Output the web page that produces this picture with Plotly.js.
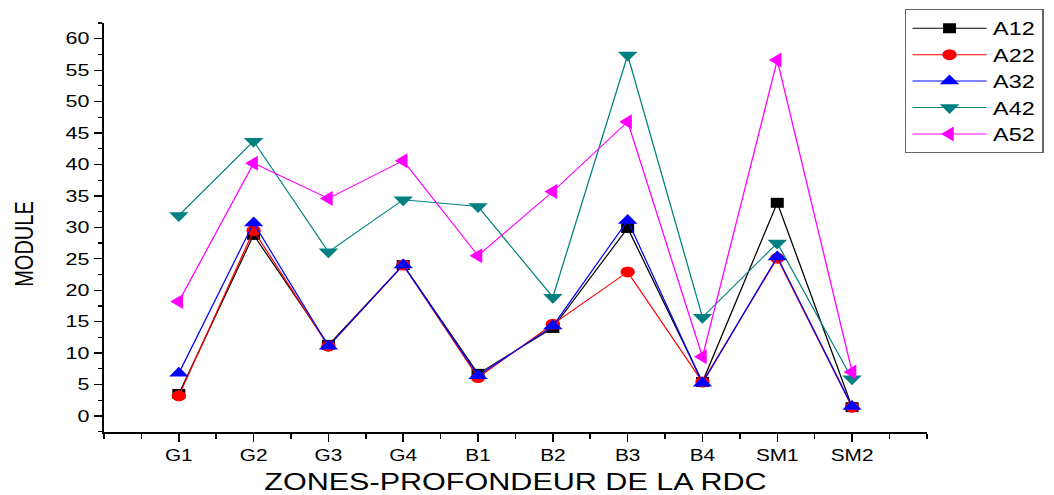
<!DOCTYPE html>
<html>
<head>
<meta charset="utf-8">
<script src="https://cdn.plot.ly/plotly-3.0.1.min.js"></script>
<style>
  html, body { margin: 0; padding: 0; background: #fff; overflow: hidden; }
  /* The figure is laid out narrow and widened horizontally to 1054px */
  #wrap { width: 1054px; height: 495px; overflow: hidden; }
  #chart { width: 811px; height: 495px; transform: scaleX(1.3); transform-origin: 0 0; }
</style>
</head>
<body>
<div id="wrap"><div id="chart"></div></div>
<script>
// Zones along the x axis
const zones = ["G1", "G2", "G3", "G4", "B1", "B2", "B3", "B4", "SM1", "SM2"];

// MODULE values per series
const A12 = [3.5, 28.8, 11.3, 24.0, 6.7, 14.0, 29.9, 5.4, 33.9, 1.4];
const A22 = [3.2, 29.5, 11.1, 24.0, 6.1, 14.6, 22.9, 5.4, 25.1, 1.4];
const A32 = [6.8, 30.7, 11.1, 24.0, 6.4, 14.3, 31.1, 5.2, 25.3, 1.5];
const A42 = [31.9, 43.7, 26.1, 34.4, 33.3, 18.9, 57.4, 15.7, 27.5, 5.9];
const A52 = [18.2, 40.2, 34.6, 40.6, 25.5, 35.7, 46.8, 9.4, 56.6, 7.0];

const seriesNames = ["A12", "A22", "A32", "A42", "A52"];
const seriesData = [A12, A22, A32, A42, A52];
const colors = ["#000000", "#ff0000", "#0000ff", "#008080", "#ff00ff"];
const symbols = ["square", "circle", "triangle-up", "triangle-down", "triangle-left"];
const sizes = [10, 11, 13, 13, 13];

// Numeric positions 1..N so the axis can run from 0 to N+1
const xpos = zones.map((_, i) => i + 1);

const traces = seriesData.map((vals, k) => ({
  type: "scatter",
  mode: "lines+markers",
  name: seriesNames[k],
  x: xpos,
  y: vals,
  line: { color: colors[k], width: 1 },
  marker: { color: colors[k], symbol: symbols[k], size: sizes[k] },
  cliponaxis: false
}));

const font = "Liberation Sans, Arial, sans-serif";

const layout = {
  width: 811,
  height: 495,
  margin: { l: 80, r: 98, t: 23, b: 63, autoexpand: false },
  paper_bgcolor: "#fff",
  plot_bgcolor: "#fff",
  font: { family: font, color: "#000" },
  showlegend: true,
  legend: {
    x: 0.973, y: 1.034, xanchor: "left", yanchor: "top",
    bgcolor: "#fff", bordercolor: "#666", borderwidth: 1,
    font: { family: font, size: 18, color: "#000" },
    itemwidth: 57,
    tracegroupgap: 0
  },
  xaxis: {
    range: [0, 11],
    tickmode: "array",
    tickvals: xpos,
    ticktext: zones,
    showgrid: false,
    zeroline: false,
    showline: true,
    linecolor: "#000",
    linewidth: 1.5,
    ticks: "outside",
    ticklen: 8,
    tickwidth: 1.2,
    tickcolor: "#000",
    tickfont: { family: font, size: 16, color: "#000" },
    minor: { tickmode: "linear", tick0: 0, dtick: 0.5, ticks: "outside", ticklen: 5, tickwidth: 1.2, tickcolor: "#000", showgrid: false },
    title: { text: "ZONES-PROFONDEUR DE LA RDC", font: { family: font, size: 23.5, color: "#000" }, standoff: 11 }
  },
  yaxis: {
    range: [-2.55, 62.5],
    tickmode: "linear",
    tick0: 0,
    dtick: 5,
    showgrid: false,
    zeroline: false,
    showline: true,
    linecolor: "#000",
    linewidth: 1.5,
    ticks: "outside",
    ticklen: 6.5,
    tickwidth: 1.2,
    tickcolor: "#000",
    tickfont: { family: font, size: 16.5, color: "#000" },
    minor: { tickmode: "linear", tick0: 2.5, dtick: 5, ticks: "outside", ticklen: 3.5, tickwidth: 1.2, tickcolor: "#000", showgrid: false }
  },
  annotations: [{
    text: "MODULE",
    xref: "paper", yref: "paper",
    x: -0.098, y: 0.46,
    xanchor: "center", yanchor: "middle",
    textangle: -90,
    showarrow: false,
    font: { family: font, size: 20, color: "#000" }
  }]
};

Plotly.newPlot("chart", traces, layout, { displayModeBar: false, staticPlot: true });
</script>
</body>
</html>
